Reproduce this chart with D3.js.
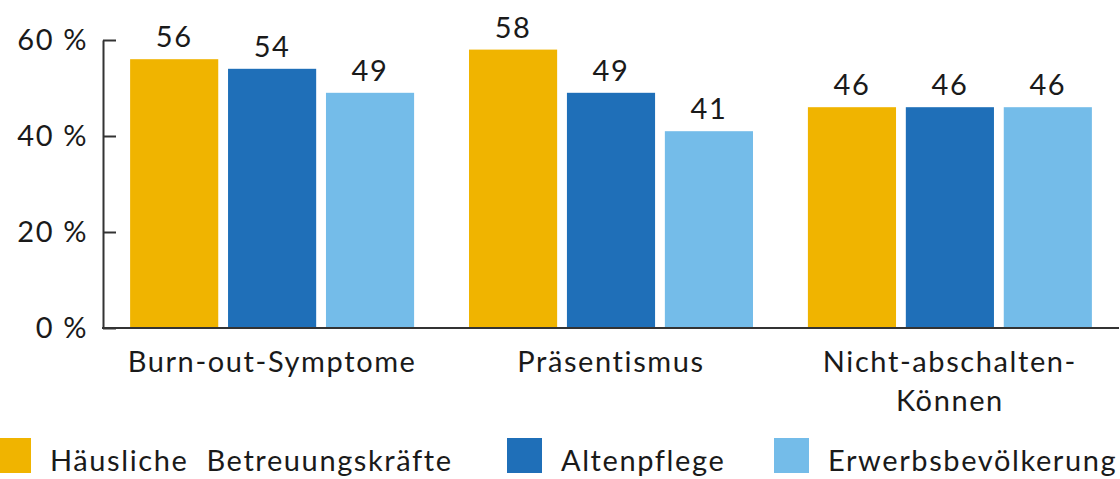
<!DOCTYPE html>
<html>
<head>
<meta charset="utf-8">
<script src="https://cdn.jsdelivr.net/npm/d3@7"></script>
<style>
	body { margin: 0; background: #fff; }
	text { font-family: Lato, sans-serif; fill: #1a1a1a; letter-spacing: 1.6px; }
</style>
</head>
<body>
<div class="chart"></div>
<script>

const categories = [['Burn-out-Symptome'], ['Präsentismus'], ['Nicht-abschalten-', 'Können']];
const seriesNames = ['Häusliche\u00a0 Betreuungskräfte', 'Altenpflege', 'Erwerbsbevölkerung'];
const betreuung = [56, 58, 46];
const altenpflege = [54, 49, 46];
const erwerb = [49, 41, 46];
const yTicks = [0, 20, 40, 60];

const colors = ['#f0b400', '#1f6fb8', '#74bce9'];
const values = [betreuung, altenpflege, erwerb];

const width = 1120;
const height = 479;
const fontSize = 29;

const svg = d3.select('.chart').append('svg')
	.attr('width', width)
	.attr('height', height);

const x0 = d3.scaleBand()
	.domain(d3.range(categories.length))
	.range([103, 1119])
	.paddingInner(0.162)
	.paddingOuter(0.08);

const x1 = d3.scaleBand()
	.domain(d3.range(seriesNames.length))
	.range([0, x0.bandwidth()])
	.paddingInner(0.1);

const y = d3.scaleLinear()
	.domain([0, 60])
	.range([328, 40]);

// bars
const groups = svg.selectAll('.group')
	.data(categories)
	.enter()
	.append('g')
	.attr('class', 'group')
	.attr('transform', function(d, i) {
		return `translate(${x0(i)},0)`;
	});

groups.selectAll('rect')
	.data(function(d, i) {
		return values.map(function(s, j) { return { s: j, v: s[i] }; });
	})
	.enter()
	.append('rect')
	.attr('x', function(d) { return x1(d.s); })
	.attr('y', function(d) { return y(d.v); })
	.attr('width', x1.bandwidth())
	.attr('height', function(d) { return y(0) - y(d.v); })
	.attr('fill', function(d) { return colors[d.s]; });

groups.selectAll('.val')
	.data(function(d, i) {
		return values.map(function(s, j) { return { s: j, v: s[i] }; });
	})
	.enter()
	.append('text')
	.attr('class', 'val')
	.text(function(d) { return d.v; })
	.attr('x', function(d) { return x1(d.s) + x1.bandwidth() / 2; })
	.attr('y', function(d) { return y(d.v) - 12; })
	.attr('text-anchor', 'middle')
	.attr('font-size', fontSize);

// y axis, ticks pointing inward
const yAxis = svg.append('g')
	.attr('transform', 'translate(103,0)')
	.call(d3.axisRight(y).tickValues(yTicks).tickSize(13).tickSizeOuter(0).tickFormat(''));

yAxis.select('.domain').attr('stroke', '#333').attr('stroke-width', 2);
yAxis.selectAll('.tick line').attr('stroke', '#333').attr('stroke-width', 2);

svg.selectAll('.ylab')
	.data(yTicks)
	.enter()
	.append('text')
	.attr('class', 'ylab')
	.text(function(d) { return `${d} %`; })
	.attr('x', 88)
	.attr('y', function(d) { return y(d); })
	.attr('dy', '0.35em')
	.attr('text-anchor', 'end')
	.attr('font-size', fontSize);

// baseline
svg.append('line')
	.attr('x1', 102)
	.attr('x2', 1119)
	.attr('y1', y(0))
	.attr('y2', y(0))
	.attr('stroke', '#333')
	.attr('stroke-width', 2);

// category labels
const catLabels = svg.selectAll('.cat')
	.data(categories)
	.enter()
	.append('text')
	.attr('class', 'cat')
	.attr('text-anchor', 'middle')
	.attr('font-size', fontSize);

catLabels.selectAll('tspan')
	.data(function(d, i) {
		return d.map(function(line) { return { line: line, i: i }; });
	})
	.enter()
	.append('tspan')
	.text(function(d) { return d.line; })
	.attr('x', function(d) { return x0(d.i) + x0.bandwidth() / 2; })
	.attr('y', function(d, k) { return 372 + k * 39; });

// legend
const legendX = [-4, 507, 774];
const legend = svg.selectAll('.legend')
	.data(seriesNames)
	.enter()
	.append('g')
	.attr('class', 'legend')
	.attr('transform', function(d, i) {
		return `translate(${legendX[i]},438)`;
	});

legend.append('rect')
	.attr('width', 35)
	.attr('height', 35)
	.attr('fill', function(d, i) { return colors[i]; });

legend.append('text')
	.text(function(d) { return d; })
	.attr('x', 54)
	.attr('y', 33)
	.attr('font-size', fontSize);

</script>
</body>
</html>
